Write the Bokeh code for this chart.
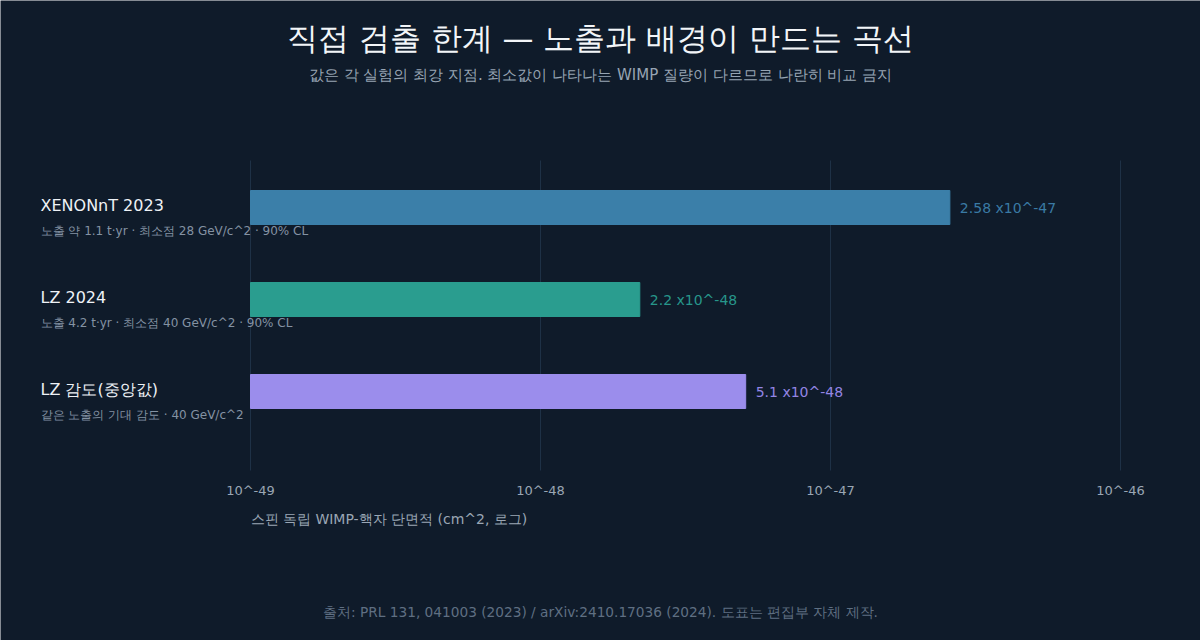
import math
from bokeh.plotting import figure
from bokeh.models import Range1d
from bokeh.core.properties import value
from bokeh.embed import file_html
from bokeh.resources import INLINE

# ---- data ----
experiments = ["XENONnT 2023", "LZ 2024", "LZ 감도(중앙값)"]
details = [
    "노출 약 1.1 t·yr · 최소점 28 GeV/c^2 · 90% CL",
    "노출 4.2 t·yr · 최소점 40 GeV/c^2 · 90% CL",
    "같은 노출의 기대 감도 · 40 GeV/c^2",
]
cross_sections = [2.58e-47, 2.2e-48, 5.1e-48]
value_labels = ["2.58 x10^-47", "2.2 x10^-48", "5.1 x10^-48"]
bar_colors = ["#3b7fa9", "#2a9d8f", "#9b8dec"]
label_colors = ["#3a7aa4", "#27968a", "#9385e4"]
tick_values = [1e-49, 1e-48, 1e-47, 1e-46]
tick_labels = ["10^-49", "10^-48", "10^-47", "10^-46"]

TITLE = "직접 검출 한계 — 노출과 배경이 만드는 곡선"
SUBTITLE = "값은 각 실험의 최강 지점. 최소값이 나타나는 WIMP 질량이 다르므로 나란히 비교 금지"
XLABEL = "스핀 독립 WIMP-핵자 단면적 (cm^2, 로그)"
SOURCE = "출처: PRL 131, 041003 (2023) / arXiv:2410.17036 (2024). 도표는 편집부 자체 제작."

FONT = value("DejaVu Sans")
BG = "#0f1b2a"

# ---- layout (pixels of the 1200x640 canvas) ----
W, H = 1200, 640
PLOT_L, PLOT_R, PLOT_T, PLOT_B = 250, 1120, 160, 470
ROW_STEP = 92      # px between rows
ROW_MID = 299      # px of the middle row centre
decade_px = (PLOT_R - PLOT_L) / (math.log10(tick_values[-1]) - math.log10(tick_values[0]))


def px2x(px):
    return 10 ** (math.log10(tick_values[0]) + (px - PLOT_L) / decade_px)


def py2y(py):
    return 1 + (ROW_MID - py) / ROW_STEP


n = len(experiments)
ypos = [n - 1 - i for i in range(n)]  # top row first

p = figure(width=W, height=H, x_axis_type="log", output_backend="svg",
           toolbar_location=None, x_axis_location=None, y_axis_location=None,
           x_range=Range1d(px2x(0), px2x(W)), y_range=Range1d(py2y(H), py2y(0)),
           min_border=0)
p.background_fill_color = BG
p.border_fill_color = BG
p.outline_line_color = None
p.grid.visible = False

# grid lines (vertical, only across the plotting band)
p.segment(x0=tick_values, x1=tick_values, y0=py2y(PLOT_B), y1=py2y(PLOT_T),
          line_color="#1e3146", line_width=1)

# bars
p.hbar(y=ypos, left=tick_values[0], right=cross_sections, height=34 / ROW_STEP,
       color=bar_colors)
p.text(x=cross_sections, y=ypos, text=value_labels, text_color=label_colors,
       x_offset=10, text_baseline="middle", text_align="left",
       text_font_size="14px", text_font=FONT)

# tick labels
p.text(x=tick_values, y=py2y(490), text=tick_labels, text_color="#9aa6b4",
       text_align="center", text_baseline="middle", text_font_size="13px",
       text_font=FONT)

# axis title
p.text(x=px2x(250), y=py2y(518), text=[XLABEL], text_color="#9aa6b4",
       text_align="left", text_baseline="middle", text_font_size="14px",
       text_font=FONT)

# row labels
p.text(x=px2x(40), y=[y + 2 / ROW_STEP for y in ypos], text=experiments,
       text_color="#eef2f6", text_align="left", text_baseline="middle",
       text_font_size="16px", text_font=FONT)
p.text(x=px2x(40), y=[y - 23 / ROW_STEP for y in ypos], text=details,
       text_color="#8492a3", text_align="left", text_baseline="middle",
       text_font_size="12px", text_font=FONT)

# title / subtitle / footer
p.text(x=px2x(600), y=py2y(37), text=[TITLE], text_color="#f2f5f8",
       text_align="center", text_baseline="middle", text_font_size="31px",
       text_font=FONT)
p.text(x=px2x(600), y=py2y(74), text=[SUBTITLE], text_color="#97a4b3",
       text_align="center", text_baseline="middle", text_font_size="15px",
       text_font=FONT)
p.text(x=px2x(600), y=py2y(611), text=[SOURCE], text_color="#5f6f82",
       text_align="center", text_baseline="middle", text_font_size="13.7px",
       text_font=FONT)

open("out.html", "w").write(file_html(p, INLINE))
